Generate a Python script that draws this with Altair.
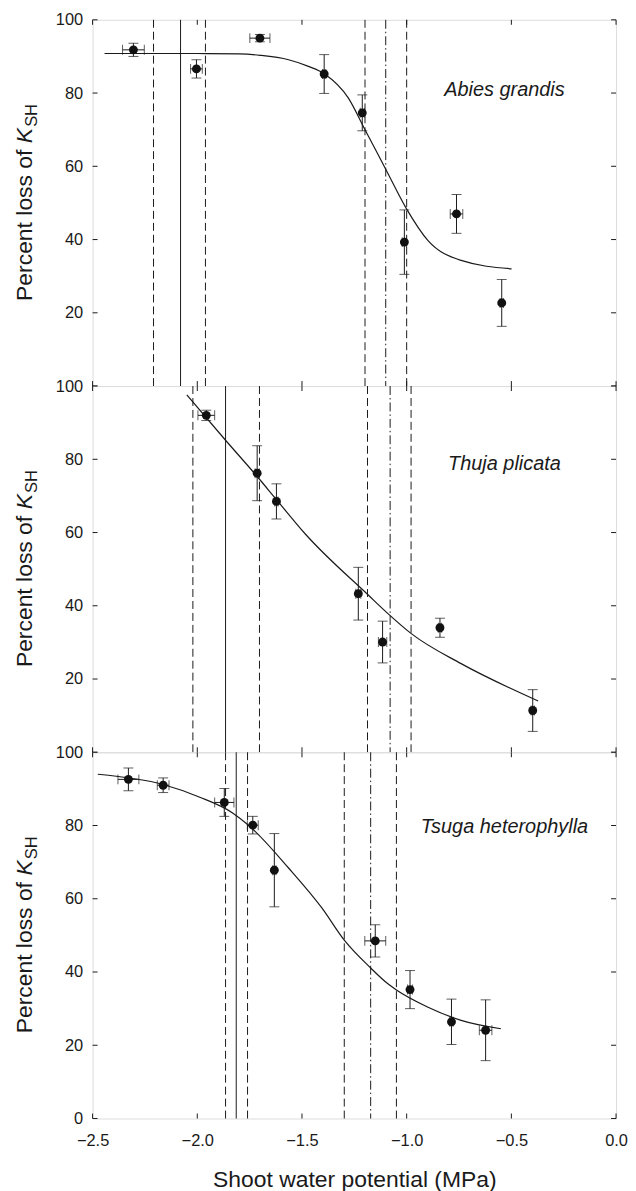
import altair as alt
import pandas as pd

# ---------------- data ----------------
X_TICKS = [-2.5, -2.0, -1.5, -1.0, -0.5, 0.0]
Y_TICKS = [0, 20, 40, 60, 80, 100]
Y_LABELS_UPPER = [20, 40, 60, 80, 100]
Y_LABELS_BOTTOM = [0, 20, 40, 60, 80, 100]
X_TITLE = "Shoot water potential (MPa)"
SPECIES = ["Abies grandis", "Thuja plicata", "Tsuga heterophylla"]

# Abies grandis
AG_X = [-2.305, -2.004, -1.701, -1.394, -1.212, -1.011, -0.762, -0.546]
AG_Y = [91.8, 86.6, 95.0, 85.2, 74.6, 39.3, 47.0, 22.7]
AG_XERR = [0.052, 0.028, 0.048, 0.008, 0.010, 0.010, 0.030, 0.008]
AG_YERR = [1.8, 2.5, 1.0, 5.3, 4.9, 8.8, 5.3, 6.4]
AG_CURVE_X = [-2.443, -2.2, -2.0, -1.80, -1.70, -1.564, -1.469, -1.394, -1.279, -1.199,
              -1.10, -1.0, -0.898, -0.740, -0.499]
AG_CURVE_Y = [90.8, 90.8, 90.8, 90.7, 90.3, 89.1, 87.3, 85.3, 78.7, 70.0,
              59.2, 48.3, 39.7, 34.3, 32.0]
AG_DASHED = [-2.209, -1.961, -1.199, -1.000]
AG_SOLID = [-2.080]
AG_DASHDOT = [-1.100]

# Thuja plicata
TP_X = [-1.957, -1.714, -1.622, -1.231, -1.115, -0.841, -0.398]
TP_Y = [92.0, 76.2, 68.5, 43.3, 30.1, 34.0, 11.4]
TP_XERR = [0.040, 0.010, 0.008, 0.012, 0.020, 0.008, 0.008]
TP_YERR = [1.4, 7.5, 4.8, 7.2, 5.7, 2.6, 5.7]
TP_CURVE_X = [-2.050, -1.865, -1.714, -1.622, -1.484, -1.181, -1.088, -0.978, -0.740, -0.372]
TP_CURVE_Y = [97.6, 85.2, 75.3, 69.0, 59.6, 42.8, 37.8, 32.4, 24.2, 14.0]
TP_DASHED = [-2.021, -1.703, -1.187, -0.979]
TP_SOLID = [-1.865]
TP_DASHDOT = [-1.079]

# Tsuga heterophylla
TH_X = [-2.329, -2.163, -1.871, -1.735, -1.632, -1.150, -0.984, -0.786, -0.623]
TH_Y = [92.6, 91.0, 86.3, 80.1, 67.8, 48.5, 35.2, 26.4, 24.1]
TH_XERR = [0.050, 0.028, 0.046, 0.026, 0.008, 0.050, 0.012, 0.008, 0.030]
TH_YERR = [3.1, 2.0, 3.8, 2.4, 10.0, 4.4, 5.2, 6.2, 8.3]
TH_CURVE_X = [-2.475, -2.163, -1.991, -1.833, -1.754, -1.564, -1.405, -1.298, -1.172,
              -1.088, -1.049, -0.898, -0.740, -0.550]
TH_CURVE_Y = [94.0, 91.2, 87.8, 83.5, 80.0, 68.4, 57.5, 48.7, 41.1,
              36.7, 35.1, 30.4, 26.8, 24.5]
TH_DASHED = [-1.865, -1.760, -1.298, -1.049]
TH_SOLID = [-1.814]
TH_DASHDOT = [-1.172]

# ---------------- style ----------------
W, H = 526, 368
FONT = "Liberation Sans"
INK = "#1a1a1a"
TICK_LEN = 5
LABEL_POS = [(-0.533, 79.1), (-0.533, 77.0), (-0.533, 77.9)]

XSCALE = alt.Scale(domain=[-2.5, 0.0], nice=False, zero=False)
YSCALE = alt.Scale(domain=[0, 100], nice=False, zero=False)


def panel(idx, xs, ys, xerr, yerr, cx, cy, dashed, solid, dashdot, ylabels, bottom):
    if bottom:
        xaxis = alt.Axis(values=X_TICKS, format=".1f", ticks=False, domain=False, grid=False,
                         labelFontSize=16.5, labelPadding=14, labelColor=INK, labelFont=FONT,
                         labelFlush=False, title=X_TITLE, titleFontSize=23,
                         titleFontWeight="normal", titleColor=INK, titleFont=FONT,
                         titlePadding=20)
    else:
        xaxis = None
    yaxis = alt.Axis(values=ylabels, ticks=False, domain=False, grid=False,
                     labelFontSize=16.5, labelPadding=10, labelColor=INK, labelFont=FONT,
                     labelFlush=False, title=None)

    def X(f):
        return alt.X(f, type="quantitative", scale=XSCALE, axis=xaxis)

    def Y(f):
        return alt.Y(f, type="quantitative", scale=YSCALE, axis=yaxis)

    pts = pd.DataFrame({"x": xs, "y": ys, "xerr": xerr, "yerr": yerr})
    pts["xlo"] = pts["x"] - pts["xerr"]
    pts["xhi"] = pts["x"] + pts["xerr"]
    pts["ylo"] = pts["y"] - pts["yerr"]
    pts["yhi"] = pts["y"] + pts["yerr"]
    curve = pd.DataFrame({"x": cx, "y": cy})
    xt = pd.DataFrame({"t": X_TICKS})
    yt = pd.DataFrame({"t": Y_TICKS})
    one = pd.DataFrame({"k": [0]})
    lab = pd.DataFrame({"x": [LABEL_POS[idx][0]], "y": [LABEL_POS[idx][1]],
                        "s": [SPECIES[idx]]})

    layers = []
    layers.append(alt.Chart(pd.DataFrame({"x": dashed})).mark_rule(
        color=INK, strokeWidth=1, strokeDash=[8, 4]).encode(x=X("x")))
    layers.append(alt.Chart(pd.DataFrame({"x": solid})).mark_rule(
        color=INK, strokeWidth=1).encode(x=X("x")))
    layers.append(alt.Chart(pd.DataFrame({"x": dashdot})).mark_rule(
        color=INK, strokeWidth=1, strokeDash=[9, 3, 1.5, 3]).encode(x=X("x")))
    layers.append(alt.Chart(curve).mark_line(
        color=INK, strokeWidth=1.2, interpolate="monotone").encode(x=X("x"), y=Y("y")))
    # error bars
    base = alt.Chart(pts)
    cap = dict(color=INK, size=10, thickness=1)
    layers.append(base.mark_rule(color=INK, strokeWidth=1).encode(
        x=X("x"), y=Y("ylo"), y2="yhi"))
    layers.append(base.mark_tick(orient="horizontal", **cap).encode(x=X("x"), y=Y("ylo")))
    layers.append(base.mark_tick(orient="horizontal", **cap).encode(x=X("x"), y=Y("yhi")))
    layers.append(base.mark_rule(color=INK, strokeWidth=1).encode(
        x=X("xlo"), x2="xhi", y=Y("y")))
    layers.append(base.mark_tick(orient="vertical", **cap).encode(x=X("xlo"), y=Y("y")))
    layers.append(base.mark_tick(orient="vertical", **cap).encode(x=X("xhi"), y=Y("y")))
    layers.append(base.mark_circle(color="#111111", size=80, opacity=1).encode(
        x=X("x"), y=Y("y")))
    # species label
    layers.append(alt.Chart(lab).mark_text(
        font=FONT, fontSize=20, fontStyle="italic", color=INK, align="center",
        baseline="alphabetic").encode(x=X("x"), y=Y("y"), text="s:N"))
    # inward ticks
    tk = dict(color=INK, strokeWidth=1)
    layers.append(alt.Chart(xt).mark_rule(**tk).encode(
        x=X("t"), y=alt.value(H), y2=alt.value(H - TICK_LEN)))
    layers.append(alt.Chart(xt).mark_rule(**tk).encode(
        x=X("t"), y=alt.value(0), y2=alt.value(TICK_LEN)))
    layers.append(alt.Chart(yt).mark_rule(**tk).encode(
        y=Y("t"), x=alt.value(0), x2=alt.value(TICK_LEN)))
    layers.append(alt.Chart(yt).mark_rule(**tk).encode(
        y=Y("t"), x=alt.value(W), x2=alt.value(W - TICK_LEN)))
    # y title: Percent loss of K_SH
    fs = 23
    y_start = H / 2 + ((6.614 + 0.278 + 0.667) * fs + 1.389 * 0.72 * fs) / 2
    y_k = y_start - (6.614 + 0.278) * fs
    y_sh = y_k - 0.667 * fs - 1
    tx = -60.5
    layers.append(alt.Chart(one).mark_text(
        text="Percent loss of", angle=270, align="left", baseline="alphabetic",
        font=FONT, fontSize=fs, color=INK).encode(x=alt.value(tx), y=alt.value(y_start)))
    layers.append(alt.Chart(one).mark_text(
        text="K", angle=270, align="left", baseline="alphabetic", fontStyle="italic",
        font=FONT, fontSize=fs, color=INK).encode(x=alt.value(tx), y=alt.value(y_k)))
    layers.append(alt.Chart(one).mark_text(
        text="SH", angle=270, align="left", baseline="alphabetic",
        font=FONT, fontSize=fs * 0.72, color=INK).encode(x=alt.value(tx + 4.5), y=alt.value(y_sh)))

    return alt.layer(*layers).properties(width=W, height=H)


p1 = panel(0, AG_X, AG_Y, AG_XERR, AG_YERR, AG_CURVE_X, AG_CURVE_Y,
           AG_DASHED, AG_SOLID, AG_DASHDOT, Y_LABELS_UPPER, False)
p2 = panel(1, TP_X, TP_Y, TP_XERR, TP_YERR, TP_CURVE_X, TP_CURVE_Y,
           TP_DASHED, TP_SOLID, TP_DASHDOT, Y_LABELS_UPPER, False)
p3 = panel(2, TH_X, TH_Y, TH_XERR, TH_YERR, TH_CURVE_X, TH_CURVE_Y,
           TH_DASHED, TH_SOLID, TH_DASHDOT, Y_LABELS_BOTTOM, True)

chart = alt.vconcat(p1, p2, p3, spacing=0, bounds="flush").properties(
    padding={"left": 5, "top": 0, "right": 0, "bottom": 0}
).configure_view(stroke=INK, strokeWidth=1.2).configure(font=FONT, background="white")

chart.save("out.html", embed_options={"renderer": "svg", "actions": False})
